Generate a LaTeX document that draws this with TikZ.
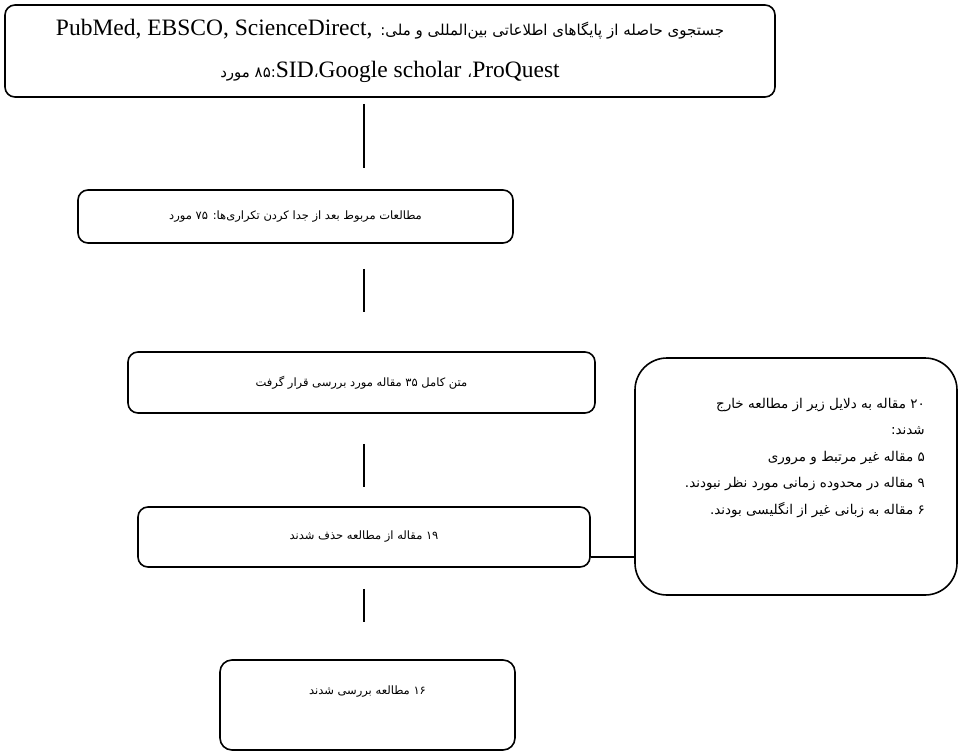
\documentclass[tikz,border=0pt]{standalone}
\usepackage{fontspec}
\setmainfont{Liberation Serif}
\newfontfamily\fa[Script=Arabic]{DejaVu Sans}
\TeXXeTstate=1
\usetikzlibrary{calc}

\newcommand{\rtl}[1]{\beginR #1\endR}
\newcommand{\ltr}[1]{\beginL #1\endL{}}
\newcommand{\fabig}{\fa\fontsize{15}{42}\selectfont}

\tikzset{
  stage/.style={draw=black, line width=1.6pt, rounded corners=10pt, align=center,
    font=\fa\fontsize{11.5}{13}\selectfont},
  link/.style={line width=2.8pt},
  sidelink/.style={line width=1.8pt}
}

\begin{document}
\begin{tikzpicture}[x=1pt,y=-1pt]
\useasboundingbox (0,0) rectangle (959,753);
\fill[white] (0,0) rectangle (959,753);
\node[stage, minimum width=770pt, minimum height=92pt, font=\fontsize{23.5}{42}\selectfont] (search) at (390,51)
  {\rtl{{\fabig جستجوی حاصله از پایگاهای اطلاعاتی بین‌المللی و ملی:} \ltr{PubMed, EBSCO, ScienceDirect,}}\\
   \rtl{\ltr{ProQuest}{\fabig ،} \ltr{Google scholar}{\fabig ،}\ltr{SID}{\fabig :۸۵ مورد}}};
\node[stage, minimum width=435pt, minimum height=53pt] (dedup) at (295.5,216.5)
  {\rtl{مطالعات مربوط بعد از جدا کردن تکراری‌ها: ۷۵ مورد}};
\node[stage, minimum width=467pt, minimum height=61pt] (fulltext) at (361.5,382.5)
  {\rtl{متن کامل ۳۵ مقاله مورد بررسی قرار گرفت}};
\node[stage, minimum width=452pt, minimum height=60pt] (removed) at (364,537)
  {\rtl{۱۹ مقاله از مطالعه حذف شدند}};
\node[stage, minimum width=295pt, inner ysep=0pt, text height=34pt, text depth=56pt, rounded corners=12pt] (reviewed) at (367.5,705)
  {\rtl{۱۶ مطالعه بررسی شدند}};
\node[draw=black, line width=1.6pt, rounded corners=32pt, minimum width=322pt, minimum height=237pt] (excluded) at (796,476.5) {};
\node[anchor=north east, align=right, inner sep=0pt, font=\fa\fontsize{13.5}{26.5}\selectfont] (excltext) at (925,398)
  {\rtl{۲۰ مقاله به دلایل زیر از مطالعه خارج}\\
   \rtl{شدند:}\\
   \rtl{۵ مقاله غیر مرتبط و مروری}\\
   \rtl{۹ مقاله در محدوده زمانی مورد نظر نبودند.}\\
   \rtl{۶ مقاله به زبانی غیر از انگلیسی بودند.}};
\draw[link, shorten <=6pt, shorten >=21pt] (search.south -| removed.center) -- (dedup.north -| removed.center);
\draw[link, shorten <=25pt, shorten >=39pt] (dedup.south -| removed.center) -- (fulltext.north -| removed.center);
\draw[link, shorten <=30pt, shorten >=19pt] (fulltext.south -| removed.center) -- (removed.north);
\draw[link, shorten <=21pt, shorten >=37pt] (removed.south) -- (reviewed.north -| removed.center);
\draw[sidelink] ([yshift=-20pt]removed.east) -- ([yshift=-20pt]removed.east -| excluded.west);
\end{tikzpicture}
\end{document}
